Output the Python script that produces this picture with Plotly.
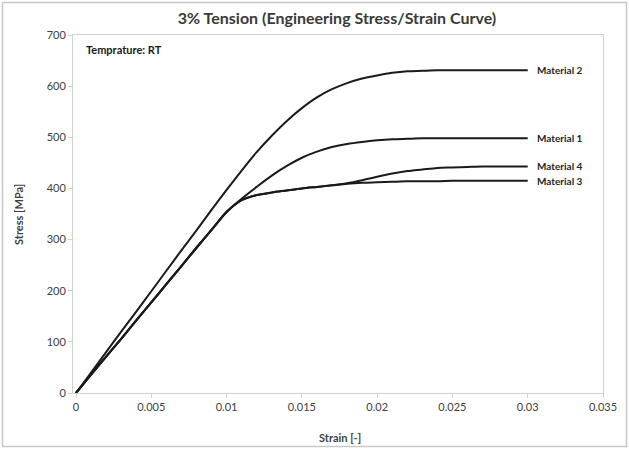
import plotly.graph_objects as go

strain = [0, 0.001, 0.002, 0.003, 0.004, 0.005, 0.006, 0.007, 0.008, 0.009, 0.010,
          0.011, 0.012, 0.013, 0.014, 0.015, 0.016, 0.017, 0.018, 0.019, 0.020,
          0.021, 0.022, 0.023, 0.024, 0.025, 0.026, 0.027, 0.028, 0.029, 0.030]

material_1 = [0, 36, 71, 106, 142, 177, 213, 248, 284, 319, 354,
              380, 403, 425, 444, 460, 472, 481, 487, 491, 494,
              496, 497, 498, 498, 498, 498, 498, 498, 498, 498]
material_2 = [0, 40, 80, 120, 159, 199, 239, 279, 318, 358, 397,
              435, 471, 503, 532, 557, 578, 594, 606, 615, 621,
              626, 629, 630, 631, 631, 631, 631, 631, 631, 631]
material_3 = [0, 36, 71, 106, 142, 177, 213, 248, 284, 319, 354,
              377, 387, 392, 396, 400, 403, 406, 409, 411, 412,
              413, 414, 414, 414, 415, 415, 415, 415, 415, 415]
material_4 = [0, 36, 71, 106, 142, 177, 213, 248, 284, 319, 354,
              377, 387, 392, 396, 400, 403, 406, 410, 416, 423,
              429, 434, 437, 440, 441, 442, 443, 443, 443, 443]

series = [("Material 1", material_1), ("Material 2", material_2),
          ("Material 3", material_3), ("Material 4", material_4)]

x_ticks = [0, 0.005, 0.01, 0.015, 0.02, 0.025, 0.03, 0.035]
x_tick_labels = ["0", "0.005", "0.01", "0.015", "0.02", "0.025", "0.03", "0.035"]
y_ticks = [0, 100, 200, 300, 400, 500, 600, 700]

FONT = "Lato, 'Open Sans', sans-serif"

L, R, T, B = 73, 26, 35, 57
PW, PH = 629 - L - R, 450 - T - B
Y0 = 450 - B

fig = go.Figure()
for name, vals in series:
    fig.add_trace(go.Scatter(x=strain, y=vals, mode="lines", name=name,
                             line=dict(color="#1a1a1a", width=2, shape="spline", smoothing=0.8),
                             showlegend=False, hoverinfo="skip"))
    fig.add_annotation(x=strain[-1], y=vals[-1], xref="x", yref="y", text="<b>" + name + "</b>",
                       showarrow=False, xanchor="left", yanchor="middle", xshift=7,
                       font=dict(family=FONT, size=10, color="#262626"))

fig.add_annotation(x=0.02, y=0.96, xref="paper", yref="paper", text="<b>Temprature: RT</b>",
                   showarrow=False, xanchor="left", yanchor="middle",
                   font=dict(family=FONT, size=11, color="#1a1a1a"))

# axis titles placed manually
fig.add_annotation(x=(18 - L) / PW, y=(Y0 - 215) / PH, xref="paper", yref="paper",
                   text="<b>Stress [MPa]</b>", textangle=-90, showarrow=False,
                   xanchor="center", yanchor="middle",
                   font=dict(family=FONT, size=11, color="#404040"))
fig.add_annotation(x=(340 - L) / PW, y=(Y0 - 437) / PH, xref="paper", yref="paper",
                   text="<b>Strain [-]</b>", showarrow=False,
                   xanchor="center", yanchor="middle",
                   font=dict(family=FONT, size=11, color="#404040"))

# outer chart border
fig.add_shape(type="rect", xref="paper", yref="paper",
              x0=(2.5 - L) / PW, x1=(626.5 - L) / PW,
              y0=(Y0 - 446.5) / PH, y1=(Y0 - 2.5) / PH,
              line=dict(color="#c8c8c8", width=1.5), layer="below")

fig.update_layout(
    width=629, height=450,
    margin=dict(l=L, r=R, t=T, b=B, autoexpand=False),
    paper_bgcolor="white", plot_bgcolor="white",
    title=dict(text="<b>3% Tension (Engineering Stress/Strain Curve)</b>",
               x=337 / 629, xanchor="center", y=1 - 18 / 450, yanchor="middle",
               font=dict(family=FONT, size=16, color="#3a3a3a")),
    xaxis=dict(range=[-0.0002, 0.035], tickvals=x_ticks, ticktext=x_tick_labels,
               showgrid=False, zeroline=False, showline=True, linecolor="#d0d0d0",
               linewidth=1, mirror=True, ticks="outside", ticklen=4, tickcolor="#d0d0d0",
               automargin=False,
               tickfont=dict(family=FONT, size=11, color="#404040")),
    yaxis=dict(range=[0, 700], tickvals=y_ticks,
               showgrid=False, zeroline=False, showline=True, linecolor="#d0d0d0",
               linewidth=1, mirror=True, ticks="outside", ticklen=4, tickcolor="#d0d0d0",
               automargin=False,
               tickfont=dict(family=FONT, size=11, color="#404040")),
)

fig.write_html("out.html", config={"displayModeBar": False},
               post_script="document.body.style.margin='0';document.body.style.overflow='hidden';")
